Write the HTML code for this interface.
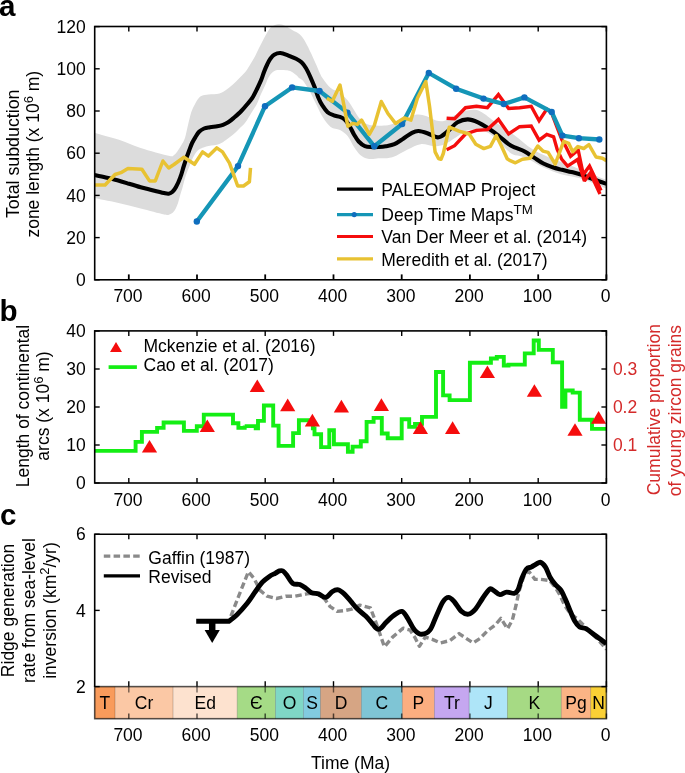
<!DOCTYPE html><html><head><meta charset="utf-8"><style>html,body{margin:0;padding:0;background:#fff;width:685px;height:773px;overflow:hidden}svg{display:block;will-change:transform}text{font-family:"Liberation Sans",sans-serif}</style></head><body>
<svg width="685" height="773" viewBox="0 0 685 773">
<text x="-1" y="16" font-size="29.6" font-weight="bold">a</text>
<text x="-0.5" y="320.5" font-size="29.6" font-weight="bold">b</text>
<text x="0" y="525" font-size="29.6" font-weight="bold">c</text>
<defs><clipPath id="ca"><rect x="94.7" y="0" width="511.7" height="300"/></clipPath><clipPath id="cc"><rect x="94.7" y="520" width="511.7" height="200"/></clipPath></defs>
<g clip-path="url(#ca)">
<path d="M94.0,132.7 C98.3,133.9 111.9,137.5 119.7,140.0 C127.5,142.5 132.5,145.3 140.7,147.9 C148.9,150.5 163.1,154.6 168.7,155.8 C174.2,157.0 172.4,155.9 174.0,155.0 C175.6,154.1 176.8,152.0 178.1,150.2 C179.4,148.4 180.8,146.1 182.0,144.0 C183.2,141.9 184.1,140.6 185.1,137.4 C186.1,134.2 187.0,129.1 188.0,125.0 C189.0,120.9 190.0,116.2 191.0,113.0 C192.0,109.8 192.8,108.3 194.0,106.0 C195.2,103.7 196.7,100.7 198.0,99.0 C199.3,97.3 200.2,96.4 201.9,95.7 C203.7,95.0 205.6,95.0 208.5,94.6 C211.4,94.2 216.5,94.3 219.4,93.5 C222.3,92.7 223.8,91.5 226.0,90.0 C228.2,88.5 230.4,86.6 232.6,84.7 C234.8,82.8 236.8,80.7 239.0,78.5 C241.2,76.3 243.8,74.0 245.7,71.6 C247.6,69.2 248.9,66.6 250.5,64.0 C252.1,61.4 253.8,58.6 255.2,55.9 C256.6,53.2 257.6,50.7 259.0,48.0 C260.4,45.3 262.1,42.0 263.4,39.5 C264.7,37.0 265.8,35.0 267.0,33.0 C268.2,31.1 269.1,29.2 270.4,27.8 C271.7,26.4 273.4,25.5 275.0,24.9 C276.6,24.3 277.9,24.1 279.7,24.3 C281.4,24.5 283.4,25.1 285.5,26.1 C287.6,27.1 290.2,28.8 292.6,30.2 C295.0,31.6 297.5,32.3 299.6,34.3 C301.7,36.2 303.5,38.7 305.4,41.9 C307.3,45.1 309.4,49.8 311.2,53.5 C312.9,57.2 314.4,60.7 315.9,64.0 C317.4,67.3 318.8,71.0 320.0,73.5 C321.2,76.0 321.2,76.4 323.0,78.8 C324.8,81.2 327.9,85.8 330.7,88.1 C333.5,90.4 337.1,90.7 340.0,92.8 C342.9,94.9 345.5,97.8 347.8,100.6 C350.1,103.4 351.9,106.8 354.0,109.9 C356.1,113.0 357.9,116.8 360.2,119.2 C362.5,121.7 365.5,123.6 368.0,124.6 C370.5,125.6 372.1,125.2 375.0,125.4 C377.9,125.6 382.5,125.8 385.7,125.5 C388.9,125.2 391.1,124.4 394.0,123.5 C396.9,122.6 399.5,121.6 403.2,120.1 C406.9,118.6 412.5,115.3 416.3,114.6 C420.1,113.9 422.7,115.0 426.0,116.0 C429.3,117.0 433.0,119.7 436.0,120.5 C439.0,121.3 441.3,121.7 444.0,121.0 C446.7,120.3 449.7,117.7 452.0,116.5 C454.3,115.3 455.2,115.0 458.0,114.0 C460.8,113.0 465.0,110.6 468.7,110.2 C472.4,109.8 475.7,109.2 480.4,111.4 C485.1,113.6 490.9,119.0 496.7,123.1 C502.5,127.2 509.5,131.6 515.4,135.9 C521.2,140.2 526.3,145.3 531.8,148.8 C537.2,152.3 542.3,154.4 548.1,156.9 C553.9,159.4 560.6,161.6 566.8,164.0 C573.0,166.4 578.9,168.8 585.5,171.5 C592.1,174.2 602.9,178.6 606.4,180.0 L606.4,188.5 C602.1,186.8 588.2,180.8 580.8,178.5 C573.4,176.2 568.3,176.3 562.1,174.5 C555.9,172.7 548.8,169.9 543.4,167.5 C538.0,165.1 533.6,161.8 530.0,160.0 C526.4,158.2 524.7,157.4 521.9,156.5 C519.1,155.6 515.6,155.6 513.1,154.5 C510.6,153.4 509.2,152.0 507.0,150.1 C504.8,148.2 503.3,145.9 500.0,143.0 C496.7,140.1 492.6,134.6 487.4,132.4 C482.2,130.2 474.0,129.2 468.7,130.1 C463.4,131.0 459.8,135.2 455.8,137.6 C451.8,139.9 448.5,142.8 444.8,144.2 C441.1,145.6 437.9,146.3 433.9,146.3 C429.9,146.3 425.1,143.6 420.7,144.2 C416.3,144.8 412.3,147.4 407.6,149.6 C402.9,151.8 397.4,155.8 392.3,157.3 C387.2,158.8 380.9,158.2 376.9,158.4 C372.8,158.7 370.8,159.4 368.0,158.8 C365.2,158.2 362.5,156.9 360.2,154.9 C357.9,152.9 356.1,150.2 354.0,147.1 C351.9,144.0 350.1,139.1 347.8,136.3 C345.5,133.5 342.9,131.7 340.0,130.1 C337.1,128.5 333.5,129.1 330.7,127.0 C327.9,124.9 325.3,121.2 323.0,117.6 C320.7,114.0 318.8,109.3 316.7,105.2 C314.6,101.1 312.3,96.2 310.5,92.8 C308.7,89.4 307.3,87.1 306.0,85.0 C304.7,82.9 304.0,81.6 302.8,80.4 C301.6,79.2 300.1,78.9 299.0,78.0 C297.9,77.1 297.6,76.2 296.1,75.0 C294.6,73.8 291.9,71.9 290.2,71.1 C288.5,70.3 287.6,70.4 286.0,70.2 C284.4,70.0 282.6,69.9 280.9,69.9 C279.2,69.9 277.5,69.8 276.0,70.3 C274.5,70.8 273.2,71.5 272.0,72.7 C270.8,73.9 269.6,75.5 268.5,77.5 C267.4,79.5 266.6,82.0 265.4,84.7 C264.1,87.5 262.5,90.7 261.0,94.0 C259.5,97.3 258.3,101.2 256.6,104.4 C254.9,107.7 252.8,110.6 251.0,113.5 C249.2,116.4 247.7,119.4 245.7,122.0 C243.7,124.6 241.2,126.8 239.0,129.0 C236.8,131.2 234.8,133.3 232.6,135.1 C230.4,136.9 228.2,138.5 226.0,140.0 C223.8,141.5 222.3,142.9 219.4,143.9 C216.5,144.9 211.6,145.2 208.5,146.0 C205.4,146.8 202.9,147.6 201.0,148.5 C199.1,149.4 198.1,149.9 196.8,151.4 C195.5,152.9 194.2,155.2 193.0,157.5 C191.8,159.8 191.0,162.5 189.8,165.4 C188.6,168.3 187.2,171.5 186.0,175.0 C184.8,178.5 183.7,183.2 182.8,186.4 C181.9,189.6 181.3,191.3 180.5,194.0 C179.7,196.7 178.8,200.5 178.1,202.8 C177.3,205.1 176.8,206.4 176.0,208.0 C175.2,209.6 174.4,211.1 173.4,212.1 C172.4,213.1 171.6,213.8 170.0,214.2 C168.4,214.6 169.0,215.4 164.1,214.5 C159.2,213.6 148.5,210.5 140.7,208.6 C132.9,206.7 125.2,204.6 117.4,202.8 C109.6,201.1 97.9,198.9 94.0,198.1 Z" fill="#dcdcdc"/>
<path d="M94.0,175.0 C96.0,175.4 101.8,176.5 105.7,177.4 C109.6,178.3 113.5,179.2 117.4,180.3 C121.3,181.4 125.1,182.6 129.0,183.8 C132.9,185.0 136.8,186.2 140.7,187.3 C144.6,188.4 148.5,189.2 152.4,190.2 C156.3,191.2 161.4,192.5 164.1,193.1 C166.8,193.7 167.3,193.9 168.7,193.7 C170.1,193.5 171.3,192.9 172.5,191.8 C173.7,190.7 174.7,189.4 176.0,187.0 C177.3,184.6 179.2,180.4 180.4,177.1 C181.7,173.8 182.5,170.1 183.5,167.0 C184.5,163.9 185.4,161.1 186.3,158.4 C187.2,155.7 188.0,153.6 189.0,151.0 C190.0,148.4 191.0,145.3 192.1,143.0 C193.2,140.7 194.1,139.2 195.3,137.3 C196.5,135.4 197.6,133.3 199.1,131.8 C200.6,130.3 202.3,129.3 204.1,128.5 C205.9,127.7 207.8,127.6 210.0,127.2 C212.2,126.8 215.0,126.7 217.2,126.3 C219.4,125.9 221.2,125.5 223.0,124.8 C224.8,124.1 226.3,123.5 228.2,122.3 C230.1,121.1 232.0,119.4 234.2,117.5 C236.4,115.6 239.2,113.2 241.3,111.0 C243.4,108.8 245.2,106.7 247.0,104.5 C248.8,102.3 250.6,100.5 252.3,97.9 C254.0,95.3 255.6,91.9 257.0,89.0 C258.4,86.1 259.8,83.2 261.0,80.4 C262.2,77.6 263.0,74.7 264.0,72.0 C265.0,69.3 266.1,66.8 267.2,64.5 C268.3,62.2 269.3,60.1 270.5,58.5 C271.7,56.9 272.6,55.6 274.2,54.7 C275.8,53.8 278.0,52.9 280.3,53.0 C282.6,53.1 285.3,54.3 287.9,55.3 C290.5,56.3 293.8,57.6 296.1,58.8 C298.4,60.0 299.9,60.8 301.5,62.3 C303.1,63.8 304.4,65.5 305.9,68.0 C307.4,70.5 309.1,74.2 310.5,77.3 C311.9,80.4 313.1,83.2 314.4,86.6 C315.7,90.0 317.0,94.4 318.3,97.5 C319.6,100.6 320.6,102.8 322.2,105.2 C323.8,107.7 325.7,110.5 327.6,112.2 C329.5,113.9 331.7,114.5 333.8,115.3 C335.9,116.1 338.2,116.2 340.0,116.9 C341.8,117.6 343.1,118.1 344.7,119.5 C346.2,120.9 347.8,123.0 349.3,125.5 C350.9,128.0 352.4,131.8 354.0,134.5 C355.6,137.2 356.9,139.6 358.7,141.5 C360.5,143.4 362.6,145.2 364.9,146.1 C367.2,147.0 370.2,146.9 372.6,147.1 C375.0,147.2 376.8,147.1 379.0,147.0 C381.2,146.9 383.1,146.8 385.7,146.3 C388.3,145.8 391.5,145.5 394.4,144.2 C397.3,142.9 400.3,140.6 403.2,138.7 C406.1,136.8 409.4,134.1 412.0,132.8 C414.6,131.5 415.9,130.9 418.5,131.0 C421.1,131.1 424.4,132.2 427.3,133.2 C430.2,134.2 433.7,136.5 436.0,137.1 C438.3,137.7 438.9,137.6 441.0,136.5 C443.1,135.4 446.1,132.8 448.8,130.4 C451.6,128.0 454.4,124.1 457.5,122.3 C460.6,120.5 464.3,119.4 467.7,119.4 C471.1,119.4 474.6,120.8 478.0,122.3 C481.4,123.8 484.8,126.0 488.2,128.2 C491.6,130.4 495.0,132.8 498.4,135.5 C501.8,138.2 505.8,142.2 508.6,144.2 C511.4,146.2 512.7,146.4 515.4,147.6 C518.1,148.8 521.6,149.8 524.7,151.5 C527.8,153.2 531.0,155.6 534.1,157.6 C537.2,159.6 540.3,161.9 543.4,163.5 C546.5,165.1 549.7,166.2 552.8,167.3 C555.9,168.4 559.0,169.0 562.1,169.8 C565.2,170.6 568.4,171.3 571.5,172.1 C574.6,172.9 577.7,173.5 580.8,174.5 C583.9,175.5 587.1,176.8 590.2,178.0 C593.3,179.2 596.8,180.5 599.5,181.5 C602.2,182.5 605.2,183.4 606.4,183.8" fill="none" stroke="#000" stroke-width="4.1"/>
<polyline points="446.6,118.2 454.6,118.7 465.5,107.7 476.5,106.3 487.4,107.7 498.4,94.6 508.6,108.5 519.6,107.7 531.2,106.3 539.1,120.7 546.8,109.1 551.4,112.3 557.2,127.7 561.8,139.5 565.4,145.8 570.6,156.3 578.2,150.0 583.3,174.5 589.5,166.0 601.0,190.5" fill="none" stroke="#f50d0d" stroke-width="3.4" stroke-linejoin="miter" stroke-miterlimit="2.2"/>
<polyline points="446.6,149.8 454.6,145.7 465.5,134.0 476.5,130.4 487.4,129.6 498.4,119.4 508.6,134.0 519.6,126.7 531.2,126.0 539.1,140.1 546.8,134.3 553.6,136.8 557.2,149.4 561.8,159.4 567.6,166.1 577.6,159.5 584.4,181.0 590.3,173.0 600.0,194.0" fill="none" stroke="#f50d0d" stroke-width="3.4" stroke-linejoin="miter" stroke-miterlimit="2.2"/>
<polyline points="196.8,221.5 238.0,166.1 265.0,106.2 292.1,87.4 319.5,91.0 347.4,112.6 374.3,146.3 402.1,124.0 428.8,73.0 456.1,88.7 483.5,98.6 503.8,104.0 524.4,97.4 551.7,111.9 562.4,135.6 578.9,138.2 599.3,139.5" fill="none" stroke="#1596b6" stroke-width="4.3" stroke-linejoin="round"/>
<circle cx="196.8" cy="221.5" r="3.2" fill="#0f6ebe"/>
<circle cx="238" cy="166.1" r="3.2" fill="#0f6ebe"/>
<circle cx="265" cy="106.2" r="3.2" fill="#0f6ebe"/>
<circle cx="292.1" cy="87.4" r="3.2" fill="#0f6ebe"/>
<circle cx="319.5" cy="91" r="3.2" fill="#0f6ebe"/>
<circle cx="347.4" cy="112.6" r="3.2" fill="#0f6ebe"/>
<circle cx="374.3" cy="146.3" r="3.2" fill="#0f6ebe"/>
<circle cx="402.1" cy="124" r="3.2" fill="#0f6ebe"/>
<circle cx="428.8" cy="73" r="3.2" fill="#0f6ebe"/>
<circle cx="456.1" cy="88.7" r="3.2" fill="#0f6ebe"/>
<circle cx="483.5" cy="98.6" r="3.2" fill="#0f6ebe"/>
<circle cx="503.8" cy="104" r="3.2" fill="#0f6ebe"/>
<circle cx="524.4" cy="97.4" r="3.2" fill="#0f6ebe"/>
<circle cx="551.7" cy="111.9" r="3.2" fill="#0f6ebe"/>
<circle cx="562.4" cy="135.6" r="3.2" fill="#0f6ebe"/>
<circle cx="578.9" cy="138.2" r="3.2" fill="#0f6ebe"/>
<circle cx="599.3" cy="139.5" r="3.2" fill="#0f6ebe"/>
<polyline points="94.0,185.0 105.1,185.0 115.0,174.5 120.9,172.7 127.9,168.6 141.9,169.2 149.5,180.9 155.3,180.9 162.9,161.0 168.7,168.0 174.0,164.5 184.0,157.2 194.5,164.3 202.6,151.9 208.5,156.1 216.7,147.9 222.5,151.9 229.5,163.1 237.7,186.0 243.5,186.0 249.4,181.8 250.5,167.8" fill="none" stroke="#e8c232" stroke-width="3.5" stroke-linejoin="round"/>
<polyline points="326.8,98.2 332.3,101.3 340.0,85.0 343.9,105.2 347.8,126.2 352.8,123.4 357.2,124.4 361.6,120.1 369.3,134.3 374.3,125.5 381.3,101.5 387.9,113.5 395.5,123.4 404.3,117.9 410.9,120.1 417.4,98.2 425.8,81.5 429.5,106.0 432.8,133.3 435.1,151.9 438.5,158.5 441.0,159.3 443.3,153.5 449.3,127.2 459.0,131.1 469.2,134.0 475.8,144.2 483.8,148.6 490.4,146.4 496.2,135.5 501.3,145.7 507.2,158.8 509.6,160.4 515.4,162.8 522.4,159.3 530.0,158.3 537.8,146.0 542.9,151.1 548.1,152.4 555.2,164.1 563.7,141.4 568.8,143.4 572.7,151.8 577.9,146.6 583.7,148.5 588.9,144.7 596.0,157.0 602.5,158.3 606.4,160.8" fill="none" stroke="#e8c232" stroke-width="3.5" stroke-linejoin="round"/>
</g>
<rect x="94.7" y="26.5" width="511.7" height="253.3" fill="none" stroke="#000" stroke-width="1.6"/>
<line x1="606.4" y1="279.8" x2="606.4" y2="274.4" stroke="#000" stroke-width="1.8"/>
<line x1="606.4" y1="26.5" x2="606.4" y2="31.5" stroke="#000" stroke-width="1.4"/>
<text x="605.6" y="302.2" font-size="17.5" text-anchor="middle">0</text>
<line x1="538.2" y1="279.8" x2="538.2" y2="274.4" stroke="#000" stroke-width="1.8"/>
<line x1="538.2" y1="26.5" x2="538.2" y2="31.5" stroke="#000" stroke-width="1.4"/>
<text x="537.4" y="302.2" font-size="17.5" text-anchor="middle">100</text>
<line x1="469.9" y1="279.8" x2="469.9" y2="274.4" stroke="#000" stroke-width="1.8"/>
<line x1="469.9" y1="26.5" x2="469.9" y2="31.5" stroke="#000" stroke-width="1.4"/>
<text x="469.1" y="302.2" font-size="17.5" text-anchor="middle">200</text>
<line x1="401.7" y1="279.8" x2="401.7" y2="274.4" stroke="#000" stroke-width="1.8"/>
<line x1="401.7" y1="26.5" x2="401.7" y2="31.5" stroke="#000" stroke-width="1.4"/>
<text x="400.9" y="302.2" font-size="17.5" text-anchor="middle">300</text>
<line x1="333.5" y1="279.8" x2="333.5" y2="274.4" stroke="#000" stroke-width="1.8"/>
<line x1="333.5" y1="26.5" x2="333.5" y2="31.5" stroke="#000" stroke-width="1.4"/>
<text x="332.7" y="302.2" font-size="17.5" text-anchor="middle">400</text>
<line x1="265.2" y1="279.8" x2="265.2" y2="274.4" stroke="#000" stroke-width="1.8"/>
<line x1="265.2" y1="26.5" x2="265.2" y2="31.5" stroke="#000" stroke-width="1.4"/>
<text x="264.4" y="302.2" font-size="17.5" text-anchor="middle">500</text>
<line x1="197.0" y1="279.8" x2="197.0" y2="274.4" stroke="#000" stroke-width="1.8"/>
<line x1="197.0" y1="26.5" x2="197.0" y2="31.5" stroke="#000" stroke-width="1.4"/>
<text x="196.2" y="302.2" font-size="17.5" text-anchor="middle">600</text>
<line x1="128.8" y1="279.8" x2="128.8" y2="274.4" stroke="#000" stroke-width="1.8"/>
<line x1="128.8" y1="26.5" x2="128.8" y2="31.5" stroke="#000" stroke-width="1.4"/>
<text x="128.0" y="302.2" font-size="17.5" text-anchor="middle">700</text>
<line x1="94.7" y1="279.8" x2="99.7" y2="279.8" stroke="#000" stroke-width="1.4"/>
<line x1="606.4" y1="279.8" x2="601.4" y2="279.8" stroke="#000" stroke-width="1.4"/>
<text x="85.8" y="286.0" font-size="17.5" text-anchor="end">0</text>
<line x1="94.7" y1="237.6" x2="99.7" y2="237.6" stroke="#000" stroke-width="1.4"/>
<line x1="606.4" y1="237.6" x2="601.4" y2="237.6" stroke="#000" stroke-width="1.4"/>
<text x="85.8" y="243.8" font-size="17.5" text-anchor="end">20</text>
<line x1="94.7" y1="195.4" x2="99.7" y2="195.4" stroke="#000" stroke-width="1.4"/>
<line x1="606.4" y1="195.4" x2="601.4" y2="195.4" stroke="#000" stroke-width="1.4"/>
<text x="85.8" y="201.6" font-size="17.5" text-anchor="end">40</text>
<line x1="94.7" y1="153.2" x2="99.7" y2="153.2" stroke="#000" stroke-width="1.4"/>
<line x1="606.4" y1="153.2" x2="601.4" y2="153.2" stroke="#000" stroke-width="1.4"/>
<text x="85.8" y="159.4" font-size="17.5" text-anchor="end">60</text>
<line x1="94.7" y1="111.0" x2="99.7" y2="111.0" stroke="#000" stroke-width="1.4"/>
<line x1="606.4" y1="111.0" x2="601.4" y2="111.0" stroke="#000" stroke-width="1.4"/>
<text x="85.8" y="117.2" font-size="17.5" text-anchor="end">80</text>
<line x1="94.7" y1="68.8" x2="99.7" y2="68.8" stroke="#000" stroke-width="1.4"/>
<line x1="606.4" y1="68.8" x2="601.4" y2="68.8" stroke="#000" stroke-width="1.4"/>
<text x="85.8" y="75.0" font-size="17.5" text-anchor="end">100</text>
<line x1="94.7" y1="26.6" x2="99.7" y2="26.6" stroke="#000" stroke-width="1.4"/>
<line x1="606.4" y1="26.6" x2="601.4" y2="26.6" stroke="#000" stroke-width="1.4"/>
<text x="85.8" y="32.8" font-size="17.5" text-anchor="end">120</text>
<text transform="translate(18.5,153.8) rotate(-90)" font-size="17.8" text-anchor="middle">Total subduction</text>
<text transform="translate(39.2,154.2) rotate(-90)" font-size="17.5" text-anchor="middle">zone length (x 10<tspan dy="-6.5" font-size="13">6</tspan><tspan dy="6.5"> m)</tspan></text>
<line x1="337" y1="189.1" x2="373" y2="189.1" stroke="#000" stroke-width="3.1"/>
<text x="381.3" y="195.7" font-size="17.5">PALEOMAP Project</text>
<line x1="337" y1="214.6" x2="373" y2="214.6" stroke="#1596b6" stroke-width="3.1"/>
<text x="381.3" y="221.2" font-size="17.5">Deep Time Maps<tspan dy="-6.8" font-size="13.3">TM</tspan></text>
<line x1="337" y1="236.5" x2="373" y2="236.5" stroke="#f50d0d" stroke-width="3.1"/>
<text x="381.3" y="243.1" font-size="17.5">Van Der Meer et al. (2014)</text>
<line x1="337" y1="258.9" x2="373" y2="258.9" stroke="#e8c232" stroke-width="3.1"/>
<text x="381.3" y="265.5" font-size="17.5">Meredith et al. (2017)</text>
<circle cx="354.2" cy="214.6" r="2.6" fill="#0f6ebe"/>
<polyline points="94.0,450.9 135.6,450.9 135.6,441.9 141.9,441.9 141.9,431.9 157.1,431.9 157.1,427.9 163.6,427.9 163.6,422.5 183.9,422.5 183.9,430.9 196.8,430.9 196.8,426.3 203.8,426.3 203.8,414.6 233.0,414.6 233.0,423.2 238.4,423.2 238.4,427.9 244.7,427.9 244.7,425.5 244.7,426.1 255.7,426.1 255.7,428.4 258.0,428.4 258.0,420.9 263.9,420.9 263.9,405.5 273.2,405.5 273.2,425.6 278.6,425.6 278.6,445.9 293.1,445.9 293.1,433.1 298.9,433.1 298.9,420.2 312.9,420.2 312.9,428.4 314.5,428.4 314.5,434.2 321.1,434.2 321.1,447.1 329.3,447.1 329.3,430.3 333.9,430.3 333.9,444.3 347.9,444.3 347.9,451.8 352.6,451.8 352.6,446.6 360.8,446.6 360.8,441.2 366.6,441.2 366.6,421.9 373.6,421.9 373.6,417.9 381.8,417.9 381.8,433.5 387.7,433.5 387.7,438.2 401.7,438.2 401.7,419.1 402.2,419.1 402.2,419.2 409.2,419.2 409.2,426.9 415.0,426.9 415.0,423.9 422.0,423.9 422.0,416.9 436.0,416.9 436.0,372.0 443.1,372.0 443.1,395.4 449.6,395.4 449.6,400.1 469.9,400.1 469.9,362.7 490.9,362.7 490.9,358.5 496.8,358.5 496.8,356.9 503.8,356.9 503.8,365.5 508.5,365.5 508.5,364.6 524.8,364.6 524.8,353.4 533.7,353.4 533.7,340.5 538.8,340.5 538.8,349.9 552.8,349.9 552.8,362.4 562.1,362.4 562.1,406.8 565.4,406.8 565.4,390.5 572.7,390.5 572.7,392.6 579.8,392.6 579.8,419.7 592.0,419.7 592.0,428.9 606.4,428.9" fill="none" stroke="#14ee14" stroke-width="3.9" stroke-linejoin="miter"/>
<path d="M149.5,440.0 L157.1,452.6 L141.9,452.6 Z" fill="#f50d0d"/>
<path d="M207.3,419.4 L214.9,432.0 L199.7,432.0 Z" fill="#f50d0d"/>
<path d="M257.3,379.4 L264.9,392.0 L249.7,392.0 Z" fill="#f50d0d"/>
<path d="M287.7,398.6 L295.3,411.2 L280.1,411.2 Z" fill="#f50d0d"/>
<path d="M312.4,413.8 L320.0,426.4 L304.8,426.4 Z" fill="#f50d0d"/>
<path d="M341.4,399.8 L349.0,412.4 L333.8,412.4 Z" fill="#f50d0d"/>
<path d="M381.4,398.3 L389.0,410.9 L373.8,410.9 Z" fill="#f50d0d"/>
<path d="M420.4,421.3 L428.0,433.9 L412.8,433.9 Z" fill="#f50d0d"/>
<path d="M452.6,421.3 L460.2,433.9 L445.0,433.9 Z" fill="#f50d0d"/>
<path d="M487.4,365.5 L495.0,378.1 L479.8,378.1 Z" fill="#f50d0d"/>
<path d="M534.4,384.2 L542.0,396.8 L526.8,396.8 Z" fill="#f50d0d"/>
<path d="M575.0,423.2 L582.6,435.8 L567.4,435.8 Z" fill="#f50d0d"/>
<path d="M598.6,411.1 L606.2,423.7 L591.0,423.7 Z" fill="#f50d0d"/>
<rect x="94.7" y="330.9" width="511.7" height="152.10000000000002" fill="none" stroke="#000" stroke-width="1.6"/>
<line x1="606.4" y1="483" x2="606.4" y2="478" stroke="#000" stroke-width="1.4"/>
<line x1="606.4" y1="330.9" x2="606.4" y2="335.9" stroke="#000" stroke-width="1.4"/>
<text x="605.6" y="505.5" font-size="17.5" text-anchor="middle">0</text>
<line x1="538.2" y1="483" x2="538.2" y2="478" stroke="#000" stroke-width="1.4"/>
<line x1="538.2" y1="330.9" x2="538.2" y2="335.9" stroke="#000" stroke-width="1.4"/>
<text x="537.4" y="505.5" font-size="17.5" text-anchor="middle">100</text>
<line x1="469.9" y1="483" x2="469.9" y2="478" stroke="#000" stroke-width="1.4"/>
<line x1="469.9" y1="330.9" x2="469.9" y2="335.9" stroke="#000" stroke-width="1.4"/>
<text x="469.1" y="505.5" font-size="17.5" text-anchor="middle">200</text>
<line x1="401.7" y1="483" x2="401.7" y2="478" stroke="#000" stroke-width="1.4"/>
<line x1="401.7" y1="330.9" x2="401.7" y2="335.9" stroke="#000" stroke-width="1.4"/>
<text x="400.9" y="505.5" font-size="17.5" text-anchor="middle">300</text>
<line x1="333.5" y1="483" x2="333.5" y2="478" stroke="#000" stroke-width="1.4"/>
<line x1="333.5" y1="330.9" x2="333.5" y2="335.9" stroke="#000" stroke-width="1.4"/>
<text x="332.7" y="505.5" font-size="17.5" text-anchor="middle">400</text>
<line x1="265.2" y1="483" x2="265.2" y2="478" stroke="#000" stroke-width="1.4"/>
<line x1="265.2" y1="330.9" x2="265.2" y2="335.9" stroke="#000" stroke-width="1.4"/>
<text x="264.4" y="505.5" font-size="17.5" text-anchor="middle">500</text>
<line x1="197.0" y1="483" x2="197.0" y2="478" stroke="#000" stroke-width="1.4"/>
<line x1="197.0" y1="330.9" x2="197.0" y2="335.9" stroke="#000" stroke-width="1.4"/>
<text x="196.2" y="505.5" font-size="17.5" text-anchor="middle">600</text>
<line x1="128.8" y1="483" x2="128.8" y2="478" stroke="#000" stroke-width="1.4"/>
<line x1="128.8" y1="330.9" x2="128.8" y2="335.9" stroke="#000" stroke-width="1.4"/>
<text x="128.0" y="505.5" font-size="17.5" text-anchor="middle">700</text>
<line x1="94.7" y1="483.0" x2="99.7" y2="483.0" stroke="#000" stroke-width="1.4"/>
<line x1="606.4" y1="483.0" x2="601.4" y2="483.0" stroke="#000" stroke-width="1.4"/>
<text x="85.8" y="489.2" font-size="17.5" text-anchor="end">0</text>
<line x1="94.7" y1="445.0" x2="99.7" y2="445.0" stroke="#000" stroke-width="1.4"/>
<line x1="606.4" y1="445.0" x2="601.4" y2="445.0" stroke="#000" stroke-width="1.4"/>
<text x="85.8" y="451.2" font-size="17.5" text-anchor="end">10</text>
<line x1="94.7" y1="407.0" x2="99.7" y2="407.0" stroke="#000" stroke-width="1.4"/>
<line x1="606.4" y1="407.0" x2="601.4" y2="407.0" stroke="#000" stroke-width="1.4"/>
<text x="85.8" y="413.2" font-size="17.5" text-anchor="end">20</text>
<line x1="94.7" y1="369.0" x2="99.7" y2="369.0" stroke="#000" stroke-width="1.4"/>
<line x1="606.4" y1="369.0" x2="601.4" y2="369.0" stroke="#000" stroke-width="1.4"/>
<text x="85.8" y="375.2" font-size="17.5" text-anchor="end">30</text>
<line x1="94.7" y1="331.0" x2="99.7" y2="331.0" stroke="#000" stroke-width="1.4"/>
<line x1="606.4" y1="331.0" x2="601.4" y2="331.0" stroke="#000" stroke-width="1.4"/>
<text x="85.8" y="337.2" font-size="17.5" text-anchor="end">40</text>
<text x="612.9" y="451.2" font-size="17.5" fill="#d42a2a">0.1</text>
<text x="612.9" y="413.2" font-size="17.5" fill="#d42a2a">0.2</text>
<text x="612.9" y="375.2" font-size="17.5" fill="#d42a2a">0.3</text>
<text transform="translate(28.6,406) rotate(-90)" font-size="17.5" text-anchor="middle">Length of continental</text>
<text transform="translate(49.3,406) rotate(-90)" font-size="17.5" text-anchor="middle">arcs (x 10<tspan dy="-6.5" font-size="13">6</tspan><tspan dy="6.5"> m)</tspan></text>
<text transform="translate(659.8,409.7) rotate(-90)" font-size="17.5" text-anchor="middle" fill="#d42a2a">Cumulative proportion</text>
<text transform="translate(681.2,410.6) rotate(-90)" font-size="17.5" text-anchor="middle" fill="#d42a2a">of young zircon grains</text>
<path d="M116,341.9 L122,352 L110,352 Z" fill="#f50d0d"/>
<text x="143.5" y="351.7" font-size="17.5">Mckenzie et al. (2016)</text>
<line x1="108.6" y1="367.1" x2="136.9" y2="367.1" stroke="#14ee14" stroke-width="3.7"/>
<text x="143.5" y="371.1" font-size="17.5">Cao et al. (2017)</text>
<g clip-path="url(#cc)">
<polyline points="230.9,616.1 239.1,595.0 248.4,571.7 254.2,578.7 260.1,590.4 267.1,596.2 276.4,598.5 285.8,596.2 295.1,596.2 306.8,593.9 316.1,592.7 324.3,598.5 330.2,606.7 337.2,611.4 345.0,610.5 351.7,609.1 359.9,605.1 370.4,607.9 376.2,623.1 384.4,646.9 392.6,637.1 403.1,628.2 410.1,630.1 414.7,637.1 419.4,646.3 425.3,637.1 432.3,639.4 440.4,642.9 449.8,640.6 459.1,633.6 466.1,638.3 473.1,642.9 480.2,638.3 487.6,630.7 495.2,625.0 500.9,618.3 507.5,628.8 512.3,620.2 516.1,605.0 518.9,591.8 523.7,576.6 528.4,570.9 535.0,579.4 540.7,579.4 549.3,580.4 555.0,587.0 559.7,594.6 564.5,605.0 570.1,613.6 576.8,618.3 583.4,625.0 590.1,631.6 597.7,639.2 604.3,646.8 606.4,649.5" fill="none" stroke="#8a8a8a" stroke-width="3.4" stroke-dasharray="6.5 3.3" stroke-linejoin="round"/>
<path d="M196.2,621.2 L228.9,621.2 C230.2,620.2 233.6,617.9 236.7,614.9 C239.8,611.9 244.1,607.1 247.2,603.2 C250.3,599.3 252.9,595.0 255.4,591.5 C257.9,588.0 260.1,584.7 262.4,582.2 C264.7,579.7 267.2,577.9 269.4,576.4 C271.5,574.9 273.6,574.2 275.3,573.3 C277.0,572.4 278.2,571.3 279.5,570.9 C280.8,570.5 281.8,570.3 283.0,571.0 C284.2,571.7 285.3,573.1 286.9,575.2 C288.5,577.3 290.6,581.9 292.8,583.4 C295.0,584.9 297.7,583.7 299.8,584.5 C301.9,585.3 303.7,586.6 305.6,588.0 C307.6,589.4 309.4,591.7 311.5,592.7 C313.6,593.7 316.2,593.1 318.5,593.9 C320.8,594.7 323.2,597.8 325.5,597.4 C327.8,597.0 330.4,592.8 332.5,591.5 C334.6,590.2 336.4,589.5 338.3,589.9 C340.2,590.3 342.2,592.1 344.2,593.9 C346.2,595.7 348.3,598.4 350.5,600.9 C352.7,603.4 355.0,606.6 357.5,609.1 C360.0,611.6 363.4,613.9 365.7,616.1 C368.0,618.4 369.9,620.7 371.5,622.6 C373.1,624.5 374.1,626.3 375.3,627.4 C376.5,628.5 377.4,629.3 378.5,629.3 C379.6,629.3 380.6,628.5 381.8,627.4 C383.1,626.3 384.0,624.6 386.0,622.6 C388.0,620.6 391.1,617.5 393.7,615.6 C396.3,613.7 399.6,610.9 401.9,611.4 C404.2,611.9 405.6,615.3 407.7,618.4 C409.8,621.5 412.3,627.5 414.7,630.1 C417.1,632.8 419.3,634.3 421.8,634.3 C424.3,634.3 427.6,633.0 429.9,630.1 C432.2,627.2 433.6,621.9 435.8,617.2 C438.0,612.5 440.7,605.3 442.8,602.0 C444.9,598.7 446.7,597.4 448.6,597.4 C450.6,597.4 452.4,599.7 454.5,602.0 C456.6,604.3 459.2,609.4 461.5,611.4 C463.8,613.4 466.2,614.6 468.5,614.2 C470.8,613.8 473.2,611.7 475.5,609.1 C477.8,606.5 480.2,601.8 482.5,598.5 C484.8,595.2 487.6,590.5 489.5,589.2 C491.4,587.9 492.5,589.9 494.2,590.8 C495.9,591.7 497.8,594.4 499.9,594.6 C502.0,594.8 504.2,592.3 506.6,592.1 C509.0,591.9 512.3,593.7 514.2,593.3 C516.1,592.9 516.7,592.4 518.0,589.9 C519.3,587.4 520.4,582.0 521.8,578.5 C523.2,575.0 524.9,570.9 526.5,569.0 C528.1,567.1 529.6,567.9 531.2,567.1 C532.8,566.3 534.4,565.0 536.0,564.2 C537.6,563.4 539.1,561.8 540.7,562.3 C542.3,562.8 543.9,564.6 545.5,567.1 C547.1,569.6 548.6,574.6 550.2,577.5 C551.8,580.4 553.2,582.1 555.0,584.2 C556.8,586.3 559.0,587.4 560.7,589.9 C562.4,592.4 563.8,595.8 565.4,599.3 C567.0,602.8 568.5,607.1 570.1,610.7 C571.7,614.4 573.3,618.5 574.9,621.2 C576.5,623.9 577.7,625.6 579.6,626.9 C581.5,628.2 583.9,627.5 586.3,628.8 C588.7,630.1 591.4,632.6 593.9,634.5 C596.4,636.4 599.4,638.5 601.5,640.0 C603.6,641.5 605.6,643.2 606.4,643.8" fill="none" stroke="#000" stroke-width="4.9" stroke-linejoin="miter"/>
</g>
<line x1="212.2" y1="621" x2="212.2" y2="632" stroke="#000" stroke-width="6.5"/>
<path d="M204.6,630.1 L219.8,630.1 L212.2,643 Z" fill="#000"/>
<path d="M94.7,687 L94.7,534.2 L606.4,534.2 L606.4,687" fill="none" stroke="#000" stroke-width="1.6"/>
<rect x="94.67" y="686.6" width="20.47" height="32.1" fill="#f99b5b" stroke="rgba(0,0,0,0.16)" stroke-width="0.9"/>
<text x="104.9" y="708.8" font-size="17.5" text-anchor="middle">T</text>
<rect x="115.14" y="686.6" width="58.00" height="32.1" fill="#fbc8a5" stroke="rgba(0,0,0,0.16)" stroke-width="0.9"/>
<text x="144.1" y="708.8" font-size="17.5" text-anchor="middle">Cr</text>
<rect x="173.14" y="686.6" width="64.14" height="32.1" fill="#fde2cf" stroke="rgba(0,0,0,0.16)" stroke-width="0.9"/>
<text x="205.2" y="708.8" font-size="17.5" text-anchor="middle">Ed</text>
<rect x="237.28" y="686.6" width="38.21" height="32.1" fill="#a5db86" stroke="rgba(0,0,0,0.16)" stroke-width="0.9"/>
<text x="256.4" y="708.8" font-size="17.5" text-anchor="middle">Є</text>
<rect x="275.48" y="686.6" width="27.97" height="32.1" fill="#7fd7c6" stroke="rgba(0,0,0,0.16)" stroke-width="0.9"/>
<text x="289.5" y="708.8" font-size="17.5" text-anchor="middle">O</text>
<rect x="303.46" y="686.6" width="17.06" height="32.1" fill="#82cbe0" stroke="rgba(0,0,0,0.16)" stroke-width="0.9"/>
<text x="312.0" y="708.8" font-size="17.5" text-anchor="middle">S</text>
<rect x="320.52" y="686.6" width="40.94" height="32.1" fill="#d6a584" stroke="rgba(0,0,0,0.16)" stroke-width="0.9"/>
<text x="341.0" y="708.8" font-size="17.5" text-anchor="middle">D</text>
<rect x="361.45" y="686.6" width="40.94" height="32.1" fill="#7fc5d5" stroke="rgba(0,0,0,0.16)" stroke-width="0.9"/>
<text x="381.9" y="708.8" font-size="17.5" text-anchor="middle">C</text>
<rect x="402.39" y="686.6" width="32.07" height="32.1" fill="#fbae80" stroke="rgba(0,0,0,0.16)" stroke-width="0.9"/>
<text x="418.4" y="708.8" font-size="17.5" text-anchor="middle">P</text>
<rect x="434.46" y="686.6" width="34.80" height="32.1" fill="#c5a7f0" stroke="rgba(0,0,0,0.16)" stroke-width="0.9"/>
<text x="451.9" y="708.8" font-size="17.5" text-anchor="middle">Tr</text>
<rect x="469.26" y="686.6" width="38.21" height="32.1" fill="#aee5f8" stroke="rgba(0,0,0,0.16)" stroke-width="0.9"/>
<text x="488.4" y="708.8" font-size="17.5" text-anchor="middle">J</text>
<rect x="507.47" y="686.6" width="53.90" height="32.1" fill="#a6da84" stroke="rgba(0,0,0,0.16)" stroke-width="0.9"/>
<text x="534.4" y="708.8" font-size="17.5" text-anchor="middle">K</text>
<rect x="561.37" y="686.6" width="29.34" height="32.1" fill="#fbb485" stroke="rgba(0,0,0,0.16)" stroke-width="0.9"/>
<text x="576.0" y="708.8" font-size="17.5" text-anchor="middle">Pg</text>
<rect x="590.71" y="686.6" width="15.69" height="32.1" fill="#fad035" stroke="rgba(0,0,0,0.16)" stroke-width="0.9"/>
<text x="598.6" y="708.8" font-size="17.5" text-anchor="middle">N</text>
<rect x="94.7" y="686.6" width="511.7" height="32.1" fill="none" stroke="rgba(0,0,0,0.62)" stroke-width="1.6"/>
<line x1="606.4" y1="718.7" x2="606.4" y2="713.5" stroke="rgba(0,0,0,0.65)" stroke-width="1.5"/>
<line x1="606.4" y1="686.6" x2="606.4" y2="692.5" stroke="rgba(0,0,0,0.55)" stroke-width="1.4"/>
<line x1="606.4" y1="686.6" x2="606.4" y2="681.2" stroke="#000" stroke-width="1.4"/>
<line x1="606.4" y1="534.2" x2="606.4" y2="539.2" stroke="#000" stroke-width="1.4"/>
<text x="605.6" y="741" font-size="17.5" text-anchor="middle">0</text>
<line x1="538.2" y1="718.7" x2="538.2" y2="713.5" stroke="rgba(0,0,0,0.65)" stroke-width="1.5"/>
<line x1="538.2" y1="686.6" x2="538.2" y2="692.5" stroke="rgba(0,0,0,0.55)" stroke-width="1.4"/>
<line x1="538.2" y1="686.6" x2="538.2" y2="681.2" stroke="#000" stroke-width="1.4"/>
<line x1="538.2" y1="534.2" x2="538.2" y2="539.2" stroke="#000" stroke-width="1.4"/>
<text x="537.4" y="741" font-size="17.5" text-anchor="middle">100</text>
<line x1="469.9" y1="718.7" x2="469.9" y2="713.5" stroke="rgba(0,0,0,0.65)" stroke-width="1.5"/>
<line x1="469.9" y1="686.6" x2="469.9" y2="692.5" stroke="rgba(0,0,0,0.55)" stroke-width="1.4"/>
<line x1="469.9" y1="686.6" x2="469.9" y2="681.2" stroke="#000" stroke-width="1.4"/>
<line x1="469.9" y1="534.2" x2="469.9" y2="539.2" stroke="#000" stroke-width="1.4"/>
<text x="469.1" y="741" font-size="17.5" text-anchor="middle">200</text>
<line x1="401.7" y1="718.7" x2="401.7" y2="713.5" stroke="rgba(0,0,0,0.65)" stroke-width="1.5"/>
<line x1="401.7" y1="686.6" x2="401.7" y2="692.5" stroke="rgba(0,0,0,0.55)" stroke-width="1.4"/>
<line x1="401.7" y1="686.6" x2="401.7" y2="681.2" stroke="#000" stroke-width="1.4"/>
<line x1="401.7" y1="534.2" x2="401.7" y2="539.2" stroke="#000" stroke-width="1.4"/>
<text x="400.9" y="741" font-size="17.5" text-anchor="middle">300</text>
<line x1="333.5" y1="718.7" x2="333.5" y2="713.5" stroke="rgba(0,0,0,0.65)" stroke-width="1.5"/>
<line x1="333.5" y1="686.6" x2="333.5" y2="692.5" stroke="rgba(0,0,0,0.55)" stroke-width="1.4"/>
<line x1="333.5" y1="686.6" x2="333.5" y2="681.2" stroke="#000" stroke-width="1.4"/>
<line x1="333.5" y1="534.2" x2="333.5" y2="539.2" stroke="#000" stroke-width="1.4"/>
<text x="332.7" y="741" font-size="17.5" text-anchor="middle">400</text>
<line x1="265.2" y1="718.7" x2="265.2" y2="713.5" stroke="rgba(0,0,0,0.65)" stroke-width="1.5"/>
<line x1="265.2" y1="686.6" x2="265.2" y2="692.5" stroke="rgba(0,0,0,0.55)" stroke-width="1.4"/>
<line x1="265.2" y1="686.6" x2="265.2" y2="681.2" stroke="#000" stroke-width="1.4"/>
<line x1="265.2" y1="534.2" x2="265.2" y2="539.2" stroke="#000" stroke-width="1.4"/>
<text x="264.4" y="741" font-size="17.5" text-anchor="middle">500</text>
<line x1="197.0" y1="718.7" x2="197.0" y2="713.5" stroke="rgba(0,0,0,0.65)" stroke-width="1.5"/>
<line x1="197.0" y1="686.6" x2="197.0" y2="692.5" stroke="rgba(0,0,0,0.55)" stroke-width="1.4"/>
<line x1="197.0" y1="686.6" x2="197.0" y2="681.2" stroke="#000" stroke-width="1.4"/>
<line x1="197.0" y1="534.2" x2="197.0" y2="539.2" stroke="#000" stroke-width="1.4"/>
<text x="196.2" y="741" font-size="17.5" text-anchor="middle">600</text>
<line x1="128.8" y1="718.7" x2="128.8" y2="713.5" stroke="rgba(0,0,0,0.65)" stroke-width="1.5"/>
<line x1="128.8" y1="686.6" x2="128.8" y2="692.5" stroke="rgba(0,0,0,0.55)" stroke-width="1.4"/>
<line x1="128.8" y1="686.6" x2="128.8" y2="681.2" stroke="#000" stroke-width="1.4"/>
<line x1="128.8" y1="534.2" x2="128.8" y2="539.2" stroke="#000" stroke-width="1.4"/>
<text x="128.0" y="741" font-size="17.5" text-anchor="middle">700</text>
<line x1="94.7" y1="686.6" x2="99.7" y2="686.6" stroke="#000" stroke-width="1.4"/>
<line x1="606.4" y1="686.6" x2="601.4" y2="686.6" stroke="#000" stroke-width="1.4"/>
<text x="85.8" y="692.8" font-size="17.5" text-anchor="end">2</text>
<line x1="94.7" y1="610.4" x2="99.7" y2="610.4" stroke="#000" stroke-width="1.4"/>
<line x1="606.4" y1="610.4" x2="601.4" y2="610.4" stroke="#000" stroke-width="1.4"/>
<text x="85.8" y="616.6" font-size="17.5" text-anchor="end">4</text>
<line x1="94.7" y1="534.2" x2="99.7" y2="534.2" stroke="#000" stroke-width="1.4"/>
<line x1="606.4" y1="534.2" x2="601.4" y2="534.2" stroke="#000" stroke-width="1.4"/>
<text x="85.8" y="540.4" font-size="17.5" text-anchor="end">6</text>
<text transform="translate(13.7,610.5) rotate(-90)" font-size="17.5" text-anchor="middle">Ridge generation</text>
<text transform="translate(34.7,610.5) rotate(-90)" font-size="17.5" text-anchor="middle">rate from sea-level</text>
<text transform="translate(55.8,610.5) rotate(-90)" font-size="17.5" text-anchor="middle">inversion (km<tspan dy="-6.5" font-size="13">2</tspan><tspan dy="6.5">/yr)</tspan></text>
<line x1="103.8" y1="556.2" x2="140" y2="556.2" stroke="#8a8a8a" stroke-width="3.2" stroke-dasharray="6.5 3.3"/>
<text x="148.3" y="563.5" font-size="17.5">Gaffin (1987)</text>
<line x1="103.8" y1="575.8" x2="140" y2="575.8" stroke="#000" stroke-width="3.2"/>
<text x="148.3" y="583.1" font-size="17.5">Revised</text>
<text x="350.5" y="769" font-size="17.5" text-anchor="middle">Time (Ma)</text>
</svg></body></html>
